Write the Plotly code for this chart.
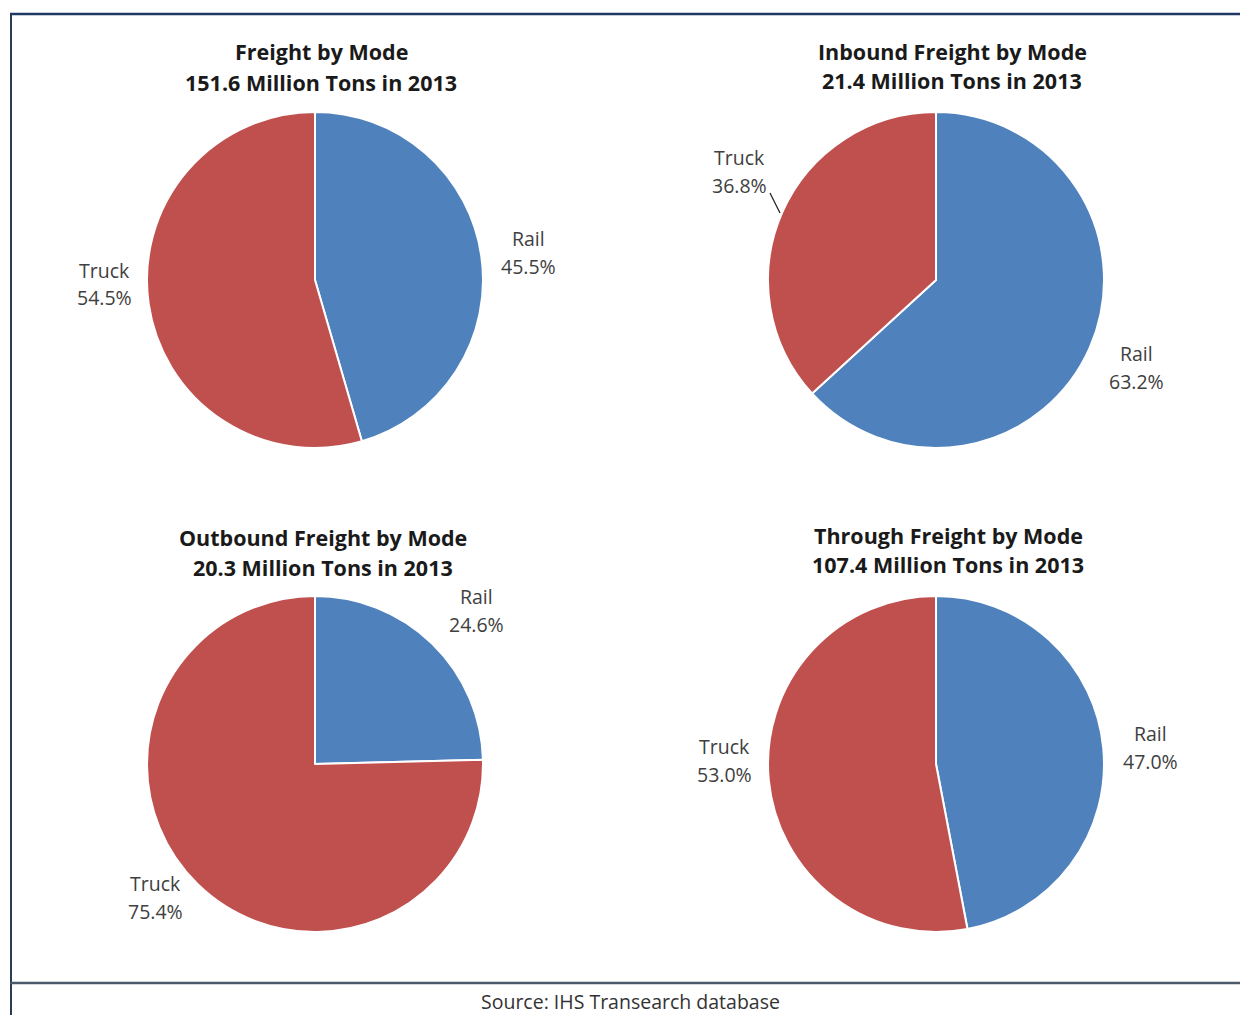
import plotly.graph_objects as go

# Freight tonnage shares by mode, 2013
modes = ["Rail", "Truck"]
chart_titles = ["Freight by Mode", "Inbound Freight by Mode",
                "Outbound Freight by Mode", "Through Freight by Mode"]
chart_totals = ["151.6 Million Tons in 2013", "21.4 Million Tons in 2013",
                "20.3 Million Tons in 2013", "107.4 Million Tons in 2013"]
rail_share = [45.5, 63.2, 24.6, 47.0]
truck_share = [54.5, 36.8, 75.4, 53.0]
source_note = "Source: IHS Transearch database"

W, H = 1240, 1015
FONT = "Open Sans"
colors = ["#4F81BD", "#C0504D"]


def px(x):
    return x / W


def py(y):
    return 1 - y / H


# pie centres (pixels), common radius
centres = [(315, 280), (936, 280), (315, 764), (936, 764)]
R = 168
# title centre positions (x, first line y, second line y)
title_pos = [(321, 52, 82), (952, 51, 80), (323, 537, 567), (948, 535, 564)]
# label anchor positions: (rail x, rail y), (truck x, truck y)
label_pos = [
    ((528, 238), (104, 270)),
    ((1136, 353), (739, 157)),
    ((476, 596), (156, 883)),
    ((1150, 733), (724, 746)),
]


def text_note(x, y, text, size, color, bold=False):
    return dict(
        x=px(x), y=py(y), xref="paper", yref="paper",
        text=f"<b>{text}</b>" if bold else text,
        showarrow=False, xanchor="center", yanchor="middle",
        font=dict(family=FONT, size=size, color=color),
    )


fig = go.Figure()
annotations = []
for i in range(4):
    cx, cy = centres[i]
    fig.add_trace(go.Pie(
        labels=modes,
        values=[rail_share[i], truck_share[i]],
        sort=False,
        direction="clockwise",
        rotation=0,
        textinfo="none",
        hoverinfo="label+percent",
        marker=dict(colors=colors, line=dict(color="white", width=2)),
        domain=dict(x=[px(cx - R), px(cx + R)], y=[py(cy + R), py(cy - R)]),
        showlegend=False,
    ))
    tx, ty1, ty2 = title_pos[i]
    annotations.append(text_note(tx, ty1, chart_titles[i], 21.5, "#1a1a1a", True))
    annotations.append(text_note(tx, ty2, chart_totals[i], 21.5, "#1a1a1a", True))
    for (lx, ly), name, val in zip(label_pos[i], modes,
                                   [rail_share[i], truck_share[i]]):
        annotations.append(text_note(lx, ly, name, 19.5, "#404040"))
        annotations.append(text_note(lx, ly + 28, f"{val:.1f}%", 19.5, "#404040"))

annotations.append(text_note(630, 1001, source_note, 19.5, "#333333"))

shapes = [
    # frame lines
    dict(type="line", xref="paper", yref="paper", x0=px(10), x1=1,
         y0=py(14), y1=py(14), line=dict(color="#1F3864", width=2.5)),
    dict(type="line", xref="paper", yref="paper", x0=px(11), x1=px(11),
         y0=py(14), y1=0, line=dict(color="#2B3A55", width=2)),
    dict(type="line", xref="paper", yref="paper", x0=px(10), x1=1,
         y0=py(983), y1=py(983), line=dict(color="#4A5868", width=2.5)),
    # leader line for inbound truck label
    dict(type="line", xref="paper", yref="paper", x0=px(770), x1=px(780),
         y0=py(193), y1=py(213), line=dict(color="#202020", width=1.2)),
]

fig.update_layout(
    width=W, height=H,
    margin=dict(l=0, r=0, t=0, b=0),
    paper_bgcolor="white", plot_bgcolor="white",
    annotations=annotations, shapes=shapes,
)

fig.write_html("out.html")
